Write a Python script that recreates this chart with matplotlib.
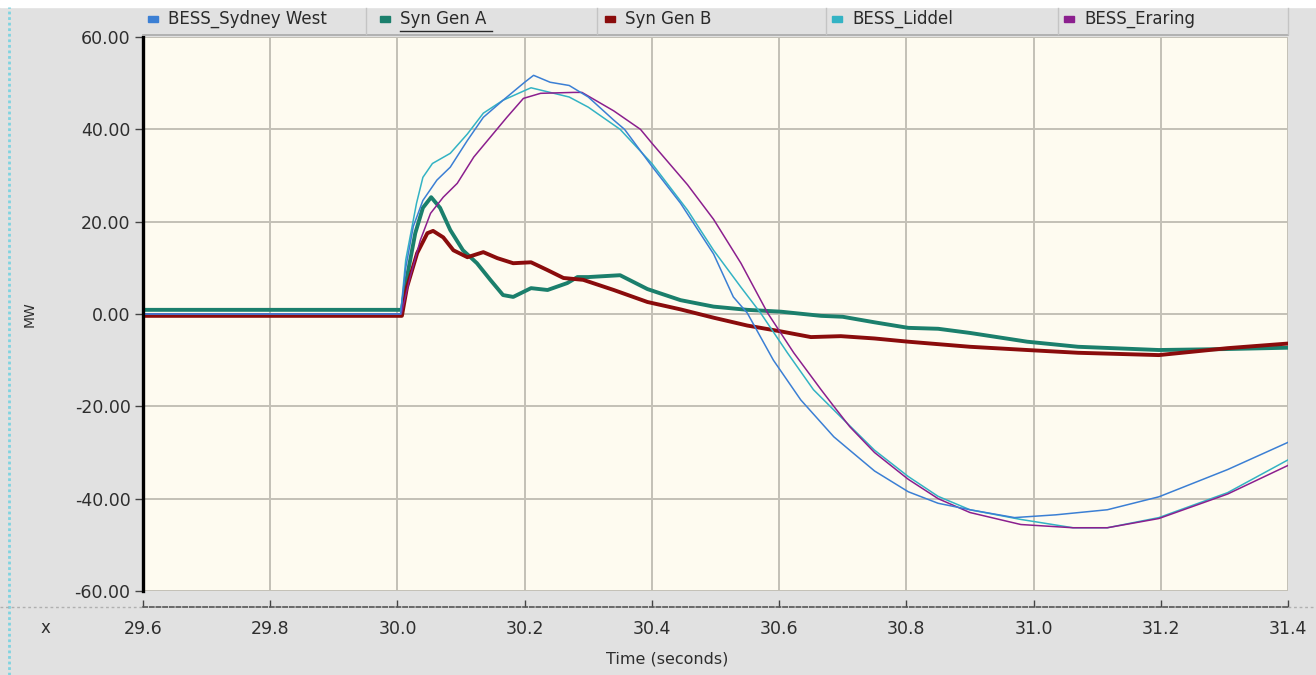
import matplotlib
matplotlib.use("Agg")
import matplotlib.pyplot as plt
from matplotlib.patches import Rectangle
from matplotlib.lines import Line2D

# Series (time in s, power in MW)
t_sydney = [29.6, 30.005, 30.013, 30.025, 30.04, 30.062, 30.083, 30.11, 30.135, 30.166, 30.2, 30.214,
            30.24, 30.27, 30.3, 30.34, 30.357, 30.4, 30.445, 30.497, 30.528, 30.55, 30.591, 30.634,
            30.686, 30.711, 30.75, 30.803, 30.85, 30.9, 30.97, 31.035, 31.116, 31.197, 31.305, 31.4]
mw_sydney = [0.0, 0.0, 10.0, 19.0, 24.6, 29.0, 31.8, 37.6, 42.6, 46.3, 50.2, 51.7,
             50.2, 49.5, 47.0, 42.0, 40.0, 32.0, 24.0, 13.0, 3.7, 0.2, -10.0, -18.6,
             -26.6, -29.5, -34.0, -38.5, -41.0, -42.4, -44.1, -43.5, -42.4, -39.6, -33.7, -27.8]

t_liddel = [29.6, 30.005, 30.013, 30.03, 30.04, 30.055, 30.083, 30.11, 30.135, 30.166, 30.2, 30.21,
            30.24, 30.27, 30.3, 30.35, 30.4, 30.456, 30.497, 30.54, 30.571, 30.613, 30.654, 30.697,
            30.75, 30.803, 30.85, 30.9, 30.98, 31.062, 31.116, 31.197, 31.305, 31.4]
mw_liddel = [0.0, 0.0, 11.7, 24.0, 29.6, 32.6, 34.8, 39.0, 43.5, 46.3, 48.4, 49.0,
             48.0, 47.0, 44.8, 40.0, 32.6, 22.5, 13.8, 5.8, 0.2, -8.4, -16.4, -22.3,
             -29.5, -35.2, -39.5, -42.4, -44.5, -46.3, -46.3, -44.1, -38.7, -31.6]

t_eraring = [29.6, 30.006, 30.02, 30.036, 30.052, 30.072, 30.094, 30.12, 30.146, 30.172, 30.198, 30.225,
             30.277, 30.29, 30.34, 30.382, 30.4, 30.456, 30.497, 30.54, 30.582, 30.623, 30.666, 30.686,
             30.711, 30.75, 30.803, 30.85, 30.9, 30.98, 31.062, 31.116, 31.197, 31.305, 31.4]
mw_eraring = [0.0, 0.0, 8.0, 16.0, 21.8, 25.3, 28.3, 34.0, 38.3, 42.6, 46.7, 47.8,
              48.0, 48.0, 44.0, 40.0, 37.0, 28.0, 20.5, 11.0, 0.2, -8.4, -16.4, -20.0,
              -24.4, -30.0, -35.8, -40.0, -43.0, -45.6, -46.3, -46.3, -44.3, -39.0, -32.8]

t_gen_a = [29.6, 30.007, 30.015, 30.028, 30.04, 30.053, 30.067, 30.083, 30.103, 30.125, 30.146, 30.166,
           30.182, 30.21, 30.236, 30.267, 30.283, 30.3, 30.35, 30.393, 30.445, 30.497, 30.55, 30.603,
           30.666, 30.7, 30.75, 30.803, 30.85, 30.9, 30.99, 31.07, 31.197, 31.3, 31.4]
mw_gen_a = [0.9, 0.9, 8.0, 17.5, 23.0, 25.3, 23.0, 18.2, 13.8, 11.0, 7.4, 4.1,
            3.7, 5.6, 5.2, 6.7, 8.0, 8.0, 8.4, 5.4, 3.0, 1.6, 0.9, 0.5,
            -0.4, -0.6, -1.8, -3.0, -3.2, -4.1, -6.0, -7.1, -7.8, -7.6, -7.3]

t_gen_b = [29.6, 30.007, 30.015, 30.031, 30.047, 30.056, 30.072, 30.088, 30.11, 30.135, 30.157, 30.182,
           30.21, 30.236, 30.261, 30.292, 30.34, 30.393, 30.445, 30.497, 30.55, 30.6, 30.65, 30.697,
           30.75, 30.803, 30.9, 30.99, 31.07, 31.197, 31.305, 31.4]
mw_gen_b = [-0.4, -0.4, 5.8, 13.2, 17.5, 18.0, 16.6, 13.8, 12.3, 13.4, 12.1, 11.0,
            11.2, 9.5, 7.8, 7.4, 5.2, 2.6, 1.0, -0.8, -2.5, -3.7, -5.0, -4.8,
            -5.3, -6.0, -7.1, -7.8, -8.4, -8.9, -7.4, -6.4]

x_ticks = [29.6, 29.8, 30.0, 30.2, 30.4, 30.6, 30.8, 31.0, 31.2, 31.4]
y_ticks = [-60, -40, -20, 0, 20, 40, 60]
legend_names = ["BESS_Sydney West", "Syn Gen A", "Syn Gen B", "BESS_Liddel", "BESS_Eraring"]

# Palette
COLOR_SYDNEY = "#3b7fd4"
COLOR_GEN_A = "#1b7f6c"
COLOR_GEN_B = "#8a0c0c"
COLOR_LIDDEL = "#33b3c4"
COLOR_ERARING = "#8b1f8e"
BG_FIG = "#e1e1e1"
BG_PLOT = "#fefbf0"
GRID = "#c3c0b6"

W, H = 1316, 675


def px(x, y):
    # screen pixel -> figure fraction
    return x / W, 1 - y / H


fig = plt.figure(figsize=(W / 100, H / 100), dpi=100, facecolor=BG_FIG)

# white strip on top + dotted cyan frame on the left
fig.add_artist(Rectangle(px(0, 7), 1, 7 / H, transform=fig.transFigure, color="white", zorder=0))
fig.add_artist(Line2D([9 / W, 9 / W], [0, 1 - 7 / H], transform=fig.transFigure,
                      color="#7fd3e0", lw=2, linestyle=(0, (1, 1))))

x0, y0 = px(143, 591)
ax = fig.add_axes([x0, y0, (1288 - 143) / W, (591 - 37) / H])
ax.set_facecolor(BG_PLOT)

# thick generator lines first, thin BESS lines on top
ax.plot(t_gen_a, mw_gen_a, color=COLOR_GEN_A, lw=2.8, zorder=3)
ax.plot(t_gen_b, mw_gen_b, color=COLOR_GEN_B, lw=2.8, zorder=3)
ax.plot(t_liddel, mw_liddel, color=COLOR_LIDDEL, lw=1.1, zorder=4)
ax.plot(t_eraring, mw_eraring, color=COLOR_ERARING, lw=1.1, zorder=4)
ax.plot(t_sydney, mw_sydney, color=COLOR_SYDNEY, lw=1.1, zorder=4)

ax.set_xlim(29.6, 31.4)
ax.set_ylim(-60, 60)
ax.set_xticks(x_ticks)
ax.set_yticks(y_ticks)
ax.set_xticklabels([f"{v:.1f}" for v in x_ticks])
ax.set_yticklabels([f"{v:.2f}" for v in y_ticks])
ax.grid(True, color=GRID, lw=1.4, zorder=1)
ax.set_axisbelow(True)

for side in ["top", "right"]:
    ax.spines[side].set_visible(False)
ax.spines["left"].set_color("black")
ax.spines["left"].set_linewidth(2.4)
ax.spines["left"].set_zorder(5)
# x axis sits 16 px below the plot, as a dashed rule
ax.spines["bottom"].set_position(("outward", 16 * 72 / 100))
ax.spines["bottom"].set_color("#555555")
ax.spines["bottom"].set_linewidth(1.2)
ax.spines["bottom"].set_linestyle((0, (2.5, 1.5)))

ax.tick_params(axis="y", direction="out", length=6, width=1, color="#444444",
               labelsize=12.5, labelcolor="#2e2e2e", pad=3)
ax.tick_params(axis="x", direction="in", length=5, width=1, color="#444444",
               labelsize=12.5, labelcolor="#2e2e2e", pad=9)

# light dashed continuation of the x axis line
fig.add_artist(Line2D([0, 143 / W], [1 - 607 / H] * 2, transform=fig.transFigure,
                      color="#b0b0b0", lw=1, linestyle=(0, (2, 2))))
fig.add_artist(Line2D([1288 / W, 1], [1 - 607 / H] * 2, transform=fig.transFigure,
                      color="#b0b0b0", lw=1, linestyle=(0, (2, 2))))

fig.text(*px(667, 659), "Time (seconds)", ha="center", va="center", fontsize=11.5, color="#2e2e2e")
fig.text(*px(30, 314), "MW", ha="center", va="center", rotation=90, fontsize=10, color="#2e2e2e")
fig.text(*px(45, 628), "x", ha="center", va="center", fontsize=12, color="#2e2e2e")

# legend strip across the top of the plot
fig.add_artist(Line2D([143 / W, 1288 / W], [1 - 35 / H] * 2, transform=fig.transFigure,
                      color="#a9a9a9", lw=1.2))
cell_edges = [366, 597, 826, 1058, 1288]
for ex in cell_edges:
    fig.add_artist(Line2D([ex / W, ex / W], [1 - 34 / H, 1 - 8 / H], transform=fig.transFigure,
                          color="#c4c4c4", lw=1))

legend_colors = [COLOR_SYDNEY, COLOR_GEN_A, COLOR_GEN_B, COLOR_LIDDEL, COLOR_ERARING]
marker_x = [148, 380, 605, 832, 1064]
for name, col, mx in zip(legend_names, legend_colors, marker_x):
    fig.add_artist(Rectangle(px(mx, 22), 10 / W, 6 / H, transform=fig.transFigure, color=col))
    fig.text(*px(mx + 20, 19), name, ha="left", va="center", fontsize=12, color="#2a2a2a")

# "Syn Gen A" is underlined in the original
fig.add_artist(Line2D([400 / W, 492 / W], [1 - 31 / H] * 2, transform=fig.transFigure,
                      color="#2a2a2a", lw=1))

fig.savefig("out.png", dpi=100, facecolor=BG_FIG)
